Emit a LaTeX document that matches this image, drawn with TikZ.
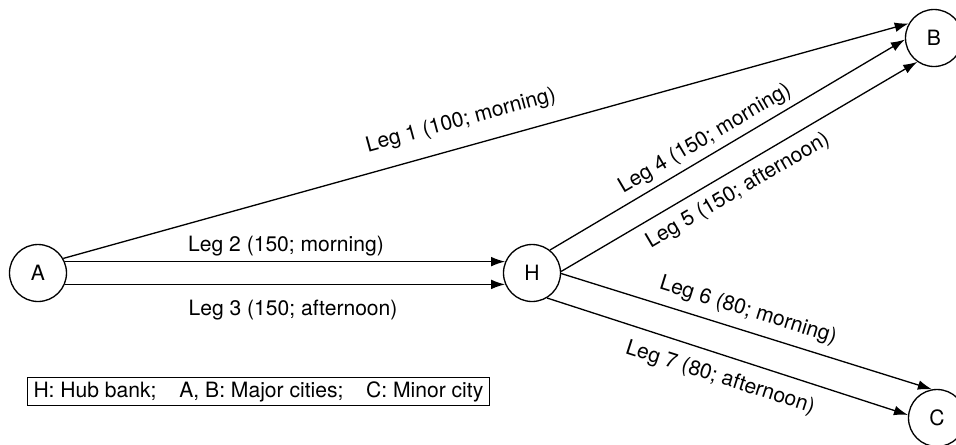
\documentclass[tikz,border=0pt]{standalone}
\usepackage{fontspec}
\setmainfont{TeX Gyre Heros}
\usetikzlibrary{arrows.meta}
\begin{document}
\begin{tikzpicture}[x=0.02cm,y=-0.02cm,
  font=\fontsize{12}{14}\selectfont,
  city/.style={circle,draw,line width=0.75pt,minimum size=1.14cm,inner sep=0pt},
  leg/.style={line width=0.75pt,-{Latex[length=8pt,width=5.5pt]}},
  lbl/.style={inner sep=0pt}]
\useasboundingbox (0,0) rectangle (956,444);

% cities and the hub
\node[city] (A) at (38,273) {A};
\node[city] (H) at (532,273) {H};
\node[city] (B) at (934,38) {B};
\node[city] (C) at (937,418) {C};

% flight legs
\draw[leg] (A.30)  -- (B.150);
\draw[leg] (A.23)  -- (H.157);
\draw[leg] (A.-23) -- (H.-157);
\draw[leg] (H.52)  -- (B.183);
\draw[leg] (H.3)   -- (B.235);
\draw[leg] (H.-1)  -- (C.100);
\draw[leg] (H.-59) -- (C.174);

% leg labels
\node[lbl,rotate=15.3]  (l1) at (461,121) {Leg 1 (100; morning)};
\node[lbl]              (l2) at (286,246) {Leg 2 (150; morning)};
\node[lbl]              (l3) at (293,310) {Leg 3 (150; afternoon)};
\node[lbl,rotate=30.5]  (l4) at (705,139) {Leg 4 (150; morning)};
\node[lbl,rotate=30.5]  (l5) at (738,191) {Leg 5 (150; afternoon)};
\node[lbl,rotate=-17.3] (l6) at (748,311) {Leg 6 (80; morning)};
\node[lbl,rotate=-17.8] (l7) at (720,378) {Leg 7 (80; afternoon)};

% legend
\node[draw,line width=0.6pt,anchor=north west,minimum height=0.56cm,inner xsep=0.12cm,
      inner ysep=0pt] (key) at (27,377)
  {H: Hub bank;\hspace{0.8em} A, B: Major cities;\hspace{0.8em} C: Minor city};
\end{tikzpicture}
\end{document}
